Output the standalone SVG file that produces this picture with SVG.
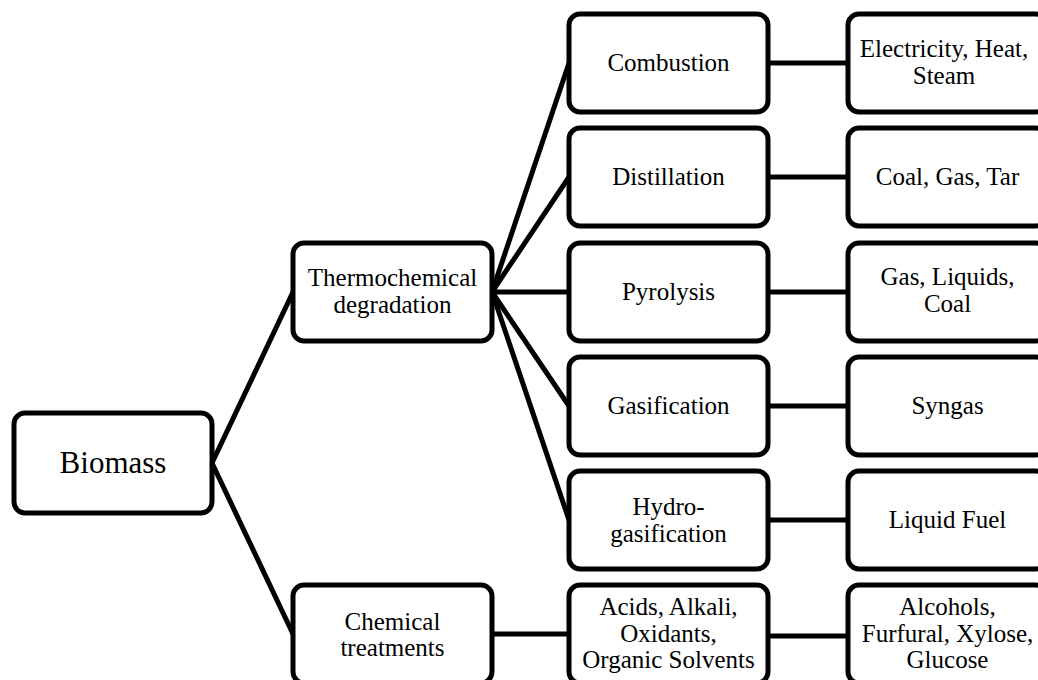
<svg xmlns="http://www.w3.org/2000/svg" width="1038" height="680" viewBox="0 0 1038 680">
<style>
  rect.box { fill: #ffffff; stroke: #000000; stroke-width: 5; }
  .conn line { stroke: #000000; stroke-width: 5; stroke-linecap: round; }
  text { font-family: "Liberation Serif", "Times New Roman", serif; font-size: 25px; fill: #000000; text-anchor: middle; }
  text.big { font-size: 31px; }
</style>
<rect width="1038" height="680" fill="#ffffff"/>
<g id="connectors" class="conn">
  <line x1="212" y1="463" x2="293" y2="292"/>
  <line x1="212" y1="463" x2="293" y2="634"/>
  <line x1="492" y1="292" x2="569" y2="63"/>
  <line x1="492" y1="292" x2="569" y2="177"/>
  <line x1="492" y1="292" x2="569" y2="292"/>
  <line x1="492" y1="292" x2="569" y2="406"/>
  <line x1="492" y1="292" x2="569" y2="520"/>
  <line x1="768" y1="63" x2="848" y2="63"/>
  <line x1="768" y1="177" x2="848" y2="177"/>
  <line x1="768" y1="292" x2="848" y2="292"/>
  <line x1="768" y1="406" x2="848" y2="406"/>
  <line x1="768" y1="520" x2="848" y2="520"/>
  <line x1="492" y1="634" x2="569" y2="634"/>
  <line x1="768" y1="636" x2="848" y2="636"/>
</g>
<g id="biomass">
  <rect class="box" x="14" y="413" width="198" height="100" rx="11"/>
  <text class="big" x="113" y="473">Biomass</text>
</g>
<g id="thermochemical">
  <rect class="box" x="293" y="243" width="199" height="98" rx="11"/>
  <text x="392.5" y="286">Thermochemical</text>
  <text x="392.5" y="312.5">degradation</text>
</g>
<g id="chemical">
  <rect class="box" x="293" y="585" width="199" height="98" rx="11"/>
  <text x="392.5" y="629.5">Chemical</text>
  <text x="392.5" y="656">treatments</text>
</g>
<g id="combustion">
  <rect class="box" x="569" y="14" width="199" height="98" rx="11"/>
  <text x="668.5" y="71">Combustion</text>
</g>
<g id="distillation">
  <rect class="box" x="569" y="128" width="199" height="98" rx="11"/>
  <text x="668.5" y="185">Distillation</text>
</g>
<g id="pyrolysis">
  <rect class="box" x="569" y="243" width="199" height="98" rx="11"/>
  <text x="668.5" y="300">Pyrolysis</text>
</g>
<g id="gasification">
  <rect class="box" x="569" y="357" width="199" height="98" rx="11"/>
  <text x="668.5" y="414">Gasification</text>
</g>
<g id="hydrogasification">
  <rect class="box" x="569" y="471" width="199" height="98" rx="11"/>
  <text x="668.5" y="515">Hydro-</text>
  <text x="668.5" y="541.5">gasification</text>
</g>
<g id="acids">
  <rect class="box" x="569" y="585" width="199" height="98" rx="11"/>
  <text x="668.5" y="615">Acids, Alkali,</text>
  <text x="668.5" y="641.5">Oxidants,</text>
  <text x="668.5" y="668">Organic Solvents</text>
</g>
<g id="electricity">
  <rect class="box" x="848" y="14" width="199" height="98" rx="11"/>
  <text x="944" y="57">Electricity, Heat,</text>
  <text x="944" y="84">Steam</text>
</g>
<g id="coal-gas-tar">
  <rect class="box" x="848" y="128" width="199" height="98" rx="11"/>
  <text x="947.5" y="185">Coal, Gas, Tar</text>
</g>
<g id="gas-liquids-coal">
  <rect class="box" x="848" y="243" width="199" height="98" rx="11"/>
  <text x="947.5" y="285">Gas, Liquids,</text>
  <text x="947.5" y="311.5">Coal</text>
</g>
<g id="syngas">
  <rect class="box" x="848" y="357" width="199" height="98" rx="11"/>
  <text x="947.5" y="414">Syngas</text>
</g>
<g id="liquid-fuel">
  <rect class="box" x="848" y="471" width="199" height="98" rx="11"/>
  <text x="947.5" y="528">Liquid Fuel</text>
</g>
<g id="alcohols">
  <rect class="box" x="848" y="585" width="199" height="98" rx="11"/>
  <text x="947.5" y="615">Alcohols,</text>
  <text x="947.5" y="641.5">Furfural, Xylose,</text>
  <text x="947.5" y="668">Glucose</text>
</g>
</svg>
